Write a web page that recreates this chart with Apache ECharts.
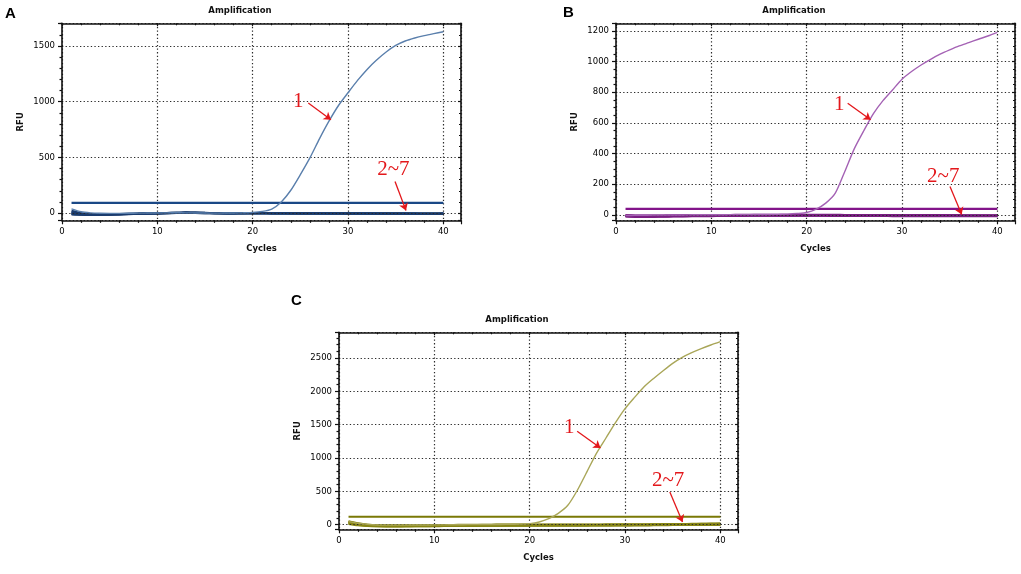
<!DOCTYPE html>
<html>
<head>
<meta charset="utf-8">
<script src="https://cdn.jsdelivr.net/npm/echarts@6/dist/echarts.min.js"></script>
<style>
html,body{margin:0;padding:0;background:#fff;}
#chart{width:1021px;height:574px;}
</style>
</head>
<body>
<div id="chart"></div>
<script>
// ---------- DATA ----------
const cycles = [1,2,3,4,5,6,7,8,9,10,11,12,13,14,15,16,17,18,19,20,21,22,23,24,25,26,27,28,29,30,31,32,33,34,35,36,37,38,39,40];
const xTickLabels = [0,10,20,30,40];

// Panel A
const aCurve1 = [38,12,2,-2,-3,-3,-2,-1,0,1,2,3,2,1,0,-1,0,1,3,6,15,36,100,205,345,495,666,825,966,1080,1191,1290,1374,1446,1505,1545,1572,1593,1611,1628];
const aNeg2 = [-8,-15,-18,-17,-15,-12,-10,-8,-6,-4,-2,0,1,0,-2,-3,-4,-4,-3,-3,-3,-3,-4,-4,-4,-5,-5,-5,-5,-5,-5,-5,-6,-6,-6,-7,-7,-8,-8,-7];
const aNeg3 = [10,-5,-12,-14,-12,-10,-8,-6,-4,-2,0,2,4,3,1,0,-1,-2,-2,-1,-1,-2,-2,-3,-3,-3,-3,-4,-4,-4,-4,-4,-5,-5,-5,-5,-6,-6,-6,-5];
const aNeg4 = [-5,-10,-12,-12,-10,-8,-6,-5,-3,-1,1,3,5,4,2,1,0,-1,-1,0,0,-1,-1,-2,-2,-2,-2,-3,-3,-3,-3,-4,-4,-4,-4,-4,-5,-5,-5,-4];
const aNeg5 = [20,0,-10,-12,-11,-9,-7,-5,-3,-1,1,3,4,3,2,0,-1,-1,0,0,0,-1,-1,-1,-2,-2,-2,-2,-2,-3,-3,-3,-3,-3,-3,-4,-4,-4,-4,-3];
const aNeg6 = [-12,-16,-17,-16,-14,-12,-9,-7,-5,-3,-1,1,2,1,-1,-2,-3,-3,-2,-2,-2,-3,-3,-3,-4,-4,-4,-4,-4,-5,-5,-5,-5,-5,-6,-6,-6,-7,-7,-6];
const aNeg7 = [0,-8,-13,-14,-13,-11,-9,-7,-5,-3,-1,1,3,2,0,-1,-2,-2,-1,-1,-1,-2,-2,-2,-3,-3,-3,-3,-3,-4,-4,-4,-4,-4,-5,-5,-5,-6,-6,-5];
const aThreshold = 92;
const aYTicks = [0,500,1000,1500];
const aLabels = [[24.78,1002,'1'],[34.75,389,'2~7']];
const aArrows = [[25.83,988,28.21,838],[34.93,284,36.08,23]];

// Panel B
const bCurve1 = [-5,-4,-3,-2,-2,-1,-1,0,0,0,0,1,1,1,2,2,3,4,8,15,37,76,141,283,432,550,660,745,815,885,935,978,1015,1048,1076,1102,1124,1146,1167,1191];
const bNeg2 = [-6,-8,-9,-9,-8,-7,-6,-5,-5,-4,-4,-4,-3,-3,-3,-3,-3,-3,-3,-3,-3,-3,-3,-4,-4,-4,-4,-4,-4,-4,-5,-5,-5,-5,-5,-5,-6,-6,-6,-6];
const bNeg3 = [-2,-4,-5,-5,-4,-3,-3,-2,-2,-1,-1,-1,0,0,0,0,0,0,0,0,0,0,0,-1,-1,-1,-1,-1,-1,-1,-2,-2,-2,-2,-2,-2,-3,-3,-3,-3];
const bNeg4 = [-10,-12,-13,-12,-11,-10,-9,-8,-7,-7,-6,-6,-6,-5,-5,-5,-5,-5,-5,-5,-5,-5,-6,-6,-6,-6,-6,-6,-7,-7,-7,-7,-7,-7,-8,-8,-8,-8,-8,-8];
const bNeg5 = [-4,-6,-7,-7,-6,-5,-4,-4,-3,-3,-2,-2,-2,-2,-1,-1,-1,-1,-1,-1,-2,-2,-2,-2,-2,-2,-3,-3,-3,-3,-3,-3,-4,-4,-4,-4,-4,-4,-5,-5];
const bNeg6 = [-12,-14,-15,-14,-13,-12,-11,-10,-9,-9,-8,-8,-8,-7,-7,-7,-7,-7,-7,-7,-7,-7,-8,-8,-8,-8,-8,-8,-9,-9,-9,-9,-9,-9,-10,-10,-10,-10,-10,-10];
const bNeg7 = [-8,-10,-11,-10,-9,-8,-7,-6,-6,-5,-5,-5,-4,-4,-4,-4,-4,-4,-4,-4,-4,-4,-4,-5,-5,-5,-5,-5,-5,-5,-6,-6,-6,-6,-6,-6,-7,-7,-7,-7];
const bThreshold = 39;
const bYTicks = [0,200,400,600,800,1000,1200];
const bLabels = [[23.42,717,'1'],[34.33,250,'2~7']];
const bArrows = [[24.30,728,26.71,620],[35.03,185,36.26,2]];

// Panel C
const cCurve1 = [45,20,5,-5,-8,-8,-7,-6,-5,-4,-3,-2,-1,0,1,2,3,5,8,15,40,90,170,290,516,792,1070,1300,1530,1740,1909,2069,2194,2310,2420,2510,2580,2640,2695,2745];
const cNeg2 = [40,10,-10,-18,-20,-20,-19,-18,-17,-16,-15,-14,-13,-12,-11,-10,-9,-8,-8,-7,-7,-7,-7,-7,-7,-7,-7,-6,-6,-5,-5,-4,-3,-2,-1,0,1,2,3,4];
const cNeg3 = [30,0,-15,-22,-24,-24,-23,-22,-21,-20,-19,-18,-17,-16,-15,-14,-13,-12,-12,-11,-11,-11,-11,-11,-11,-11,-11,-10,-10,-9,-9,-8,-7,-6,-5,-4,-3,-2,-1,0];
const cNeg4 = [20,-5,-18,-24,-26,-26,-25,-24,-23,-22,-21,-20,-19,-18,-17,-16,-15,-14,-14,-13,-13,-13,-13,-13,-13,-13,-12,-12,-11,-10,-9,-8,-7,-6,-5,-4,-3,-2,-1,0];
const cNeg5 = [50,20,0,-8,-10,-10,-9,-8,-7,-6,-5,-4,-3,-2,-1,0,1,2,2,3,3,3,3,3,3,3,3,4,4,5,5,6,7,8,9,10,12,14,16,18];
const cNeg6 = [10,-10,-20,-25,-27,-27,-26,-25,-24,-23,-22,-21,-20,-19,-18,-17,-16,-16,-15,-15,-15,-15,-15,-15,-15,-15,-14,-14,-13,-12,-11,-10,-9,-8,-7,-6,-5,-4,-3,-2];
const cNeg7 = [45,15,-5,-12,-14,-14,-13,-12,-11,-10,-9,-8,-7,-6,-5,-4,-3,-2,-2,-1,-1,-1,-1,-1,-1,-1,-1,0,0,1,2,3,4,5,6,8,10,12,14,16];
const cThreshold = 118;
const cYTicks = [0,500,1000,1500,2000,2500];
const cLabels = [[24.14,1458,'1'],[34.52,666,'2~7']];
const cArrows = [[24.98,1402,27.43,1151],[34.70,490,36.03,39]];

// ---------- LAYOUT / STYLE ----------
const panels = [
  {grid:{left:62, top:23.3, width:399, height:197}, xmax:41.85, ymin:-65, ymax:1704, step:500, minorSplit:5,
   yTicks:aYTicks, curve:aCurve1, negs:[aNeg2,aNeg3,aNeg4,aNeg5,aNeg6,aNeg7], thr:aThreshold,
   labels:aLabels, arrows:aArrows, c1:'#5a7fac', neg:'#1b3c6e', thrColor:'#1a4886'},
  {grid:{left:616, top:23.3, width:399, height:197}, xmax:41.85, ymin:-36, ymax:1250, step:200, minorSplit:4,
   yTicks:bYTicks, curve:bCurve1, negs:[bNeg2,bNeg3,bNeg4,bNeg5,bNeg6,bNeg7], thr:bThreshold,
   labels:bLabels, arrows:bArrows, c1:'#a462b4', neg:'#7a1f82', thrColor:'#82148a'},
  {grid:{left:339, top:332.3, width:399, height:197}, xmax:41.85, ymin:-70, ymax:2886, step:500, minorSplit:5,
   yTicks:cYTicks, curve:cCurve1, negs:[cNeg2,cNeg3,cNeg4,cNeg5,cNeg6,cNeg7], thr:cThreshold,
   labels:cLabels, arrows:cArrows, c1:'#a9a658', neg:'#878514', thrColor:'#7a7906'}
];

const AX = '#111';
const plain = v => String(v);
const tickFont = {fontFamily:'DejaVu Sans', fontSize:8.5, color:'#000'};
const nameFont = {fontFamily:'DejaVu Sans', fontSize:8.5, fontWeight:'bold', color:'#111'};
const dotted = {type:[1.3,2.3], color:'#2a2a2a', width:1.2};
const RED = '#e3171b';

const grids = [], xAxes = [], yAxes = [], series = [];

panels.forEach((p, i) => {
  grids.push(Object.assign({containLabel:false}, p.grid));
  const line = {show:true, onZero:false, lineStyle:{color:AX, width:1.6}};
  // bottom x axis
  xAxes.push({gridIndex:i, type:'value', position:'bottom', min:0, max:p.xmax, interval:10,
    axisLine:line,
    axisTick:{show:true, length:4, lineStyle:{color:AX, width:1.2}},
    minorTick:{show:true, splitNumber:5, length:2.5, lineStyle:{color:AX, width:1.2}},
    axisLabel:Object.assign({customValues:xTickLabels, margin:7, formatter:plain}, tickFont),
    splitLine:{show:true, lineStyle:dotted},
    name:'Cycles', nameLocation:'middle', nameGap:24, nameTextStyle:nameFont, z:3});
  // top frame axis
  xAxes.push({gridIndex:i, type:'value', position:'top', min:0, max:p.xmax, interval:10,
    axisLine:line,
    axisTick:{show:true, inside:true, length:3, lineStyle:{color:AX, width:1.2}},
    minorTick:{show:true, splitNumber:5, length:2, lineStyle:{color:AX, width:1.2}},
    axisLabel:{show:false}, splitLine:{show:false}, z:3});
  // left y axis
  yAxes.push({gridIndex:i, type:'value', position:'left', min:p.ymin, max:p.ymax,
    minInterval:p.step, maxInterval:p.step,
    axisLine:line,
    axisTick:{show:true, length:4, lineStyle:{color:AX, width:1.2}},
    minorTick:{show:true, splitNumber:p.minorSplit, length:2.5, lineStyle:{color:AX, width:1.2}},
    axisLabel:Object.assign({customValues:p.yTicks, margin:7, formatter:plain}, tickFont),
    splitLine:{show:true, lineStyle:dotted},
    name:'RFU', nameLocation:'middle', nameGap:37, nameTextStyle:nameFont, z:3});
  // right frame axis
  yAxes.push({gridIndex:i, type:'value', position:'right', min:p.ymin, max:p.ymax,
    minInterval:p.step, maxInterval:p.step,
    axisLine:line,
    axisTick:{show:true, inside:true, length:3, lineStyle:{color:AX, width:1.2}},
    minorTick:{show:true, splitNumber:p.minorSplit, length:2, lineStyle:{color:AX, width:1.2}},
    axisLabel:{show:false}, splitLine:{show:false}, z:3});

  const base = {type:'line', xAxisIndex:2*i, yAxisIndex:2*i, showSymbol:false, symbol:'none',
    silent:true, animation:false, smooth:0.25, emphasis:{disabled:true}};

  // threshold line with annotations
  series.push(Object.assign({}, base, {
    smooth:false, z:3,
    data:[[cycles[0], p.thr],[cycles[cycles.length-1], p.thr]],
    lineStyle:{color:p.thrColor, width:2.2},
    markLine:{silent:true, animation:false, symbol:['none','arrow'], symbolSize:7,
      label:{show:false}, emphasis:{disabled:true},
      lineStyle:{color:RED, width:1.3, type:'solid'},
      data:p.arrows.map(a => [{coord:[a[0],a[1]]},{coord:[a[2],a[3]]}])},
    markPoint:{silent:true, animation:false, symbol:'circle', symbolSize:1,
      itemStyle:{color:'rgba(0,0,0,0)'},
      label:{show:true, position:'inside', formatter:'{b}', fontFamily:'Liberation Serif', fontSize:21, color:RED},
      data:p.labels.map(l => ({name:l[2], coord:[l[0], l[1]], value:l[1]}))}
  }));
  // negative samples 2~7
  p.negs.forEach(arr => {
    series.push(Object.assign({}, base, {z:2,
      data:cycles.map((c,k)=>[c, arr[k]]),
      lineStyle:{color:p.neg, width:2}}));
  });
  // sample 1
  series.push(Object.assign({}, base, {z:4,
    data:cycles.map((c,k)=>[c, p.curve[k]]),
    lineStyle:{color:p.c1, width:1.4}}));
});

const titleFont = {fontFamily:'DejaVu Sans', fontSize:8.5, fontWeight:'bold', color:'#111'};
const letterFont = {fontFamily:'Liberation Sans', fontSize:15, fontWeight:'bold', color:'#000'};
const titles = [
  {text:'Amplification', left:240, top:6.5, textAlign:'center', textVerticalAlign:'top', padding:0, textStyle:titleFont},
  {text:'Amplification', left:794, top:6.5, textAlign:'center', textVerticalAlign:'top', padding:0, textStyle:titleFont},
  {text:'Amplification', left:517, top:315.5, textAlign:'center', textVerticalAlign:'top', padding:0, textStyle:titleFont},
  {text:'A', left:5, top:6, textAlign:'left', textVerticalAlign:'top', padding:0, textStyle:letterFont},
  {text:'B', left:563, top:5, textAlign:'left', textVerticalAlign:'top', padding:0, textStyle:letterFont},
  {text:'C', left:291, top:293, textAlign:'left', textVerticalAlign:'top', padding:0, textStyle:letterFont}
];

const chart = echarts.init(document.getElementById('chart'), null, {renderer:'canvas'});
chart.setOption({
  backgroundColor:'#ffffff',
  animation:false,
  title:titles,
  grid:grids,
  xAxis:xAxes,
  yAxis:yAxes,
  series:series
});
</script>
</body>
</html>
